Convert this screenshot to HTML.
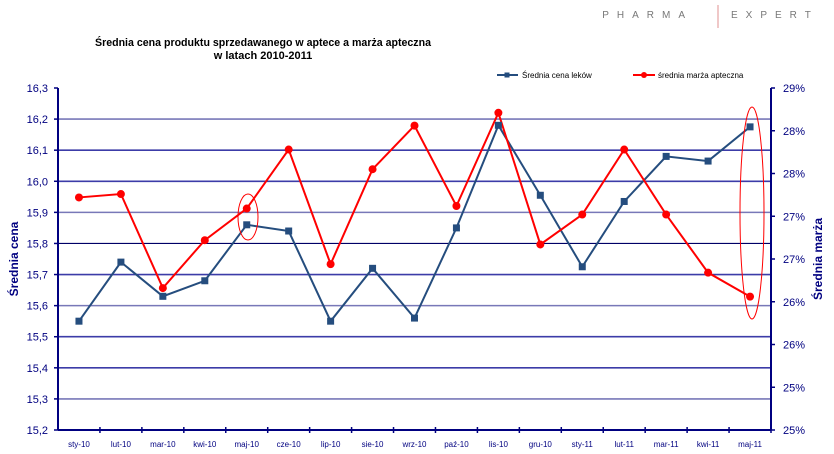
<!DOCTYPE html>
<html><head><meta charset="utf-8"><style>
body{margin:0;background:#fff;width:834px;height:454px;overflow:hidden;font-family:"Liberation Sans",sans-serif}
svg{display:block}
</style></head><body>
<svg id="chart" width="834" height="454" font-family="Liberation Sans, sans-serif">
<g>
<text x="693" y="18" font-size="10" fill="#777" text-anchor="end" letter-spacing="8">PHARMA</text>
<line x1="718" y1="5" x2="718" y2="28" stroke="#e09090" stroke-width="1"/>
<text x="731" y="18" font-size="10" fill="#777" letter-spacing="8">EXPERT</text>
</g>
<text x="263" y="46" font-size="11" font-weight="bold" fill="#000" text-anchor="middle" textLength="336" lengthAdjust="spacingAndGlyphs">Średnia cena produktu sprzedawanego w aptece a marża apteczna</text>
<text x="263" y="59" font-size="11" font-weight="bold" fill="#000" text-anchor="middle">w latach 2010-2011</text>
<g>
<g><line x1="497" y1="75" x2="518" y2="75" stroke="#254d7e" stroke-width="2"/><rect x="504.5" y="72.5" width="5" height="5" fill="#254d7e"/><text x="522" y="78" font-size="8" fill="#000">Średnia cena leków</text></g>
<g><line x1="633" y1="75" x2="655" y2="75" stroke="#f00" stroke-width="2"/><circle cx="644" cy="75" r="3" fill="#f00"/><text x="658" y="78" font-size="8" fill="#000">średnia marża apteczna</text></g>
</g>
<g id="grid"></g><g id="axes"></g><g id="series"></g>
<text transform="translate(18,259) rotate(-90)" font-size="12" font-weight="bold" fill="#000080" text-anchor="middle">Średnia cena</text>
<text transform="translate(822,259) rotate(-90)" font-size="12" font-weight="bold" fill="#000080" text-anchor="middle">Średnia marża</text>
<ellipse cx="248" cy="217" rx="10" ry="23" fill="none" stroke="#f00" stroke-width="1"/>
<ellipse cx="752" cy="213" rx="12" ry="106" fill="none" stroke="#f00" stroke-width="1"/>
</svg>
<script>
const categories=["sty-10","lut-10","mar-10","kwi-10","maj-10","cze-10","lip-10","sie-10","wrz-10","paź-10","lis-10","gru-10","sty-11","lut-11","mar-11","kwi-11","maj-11"];
const priceValues=[15.55,15.74,15.63,15.68,15.86,15.84,15.55,15.72,15.56,15.85,16.18,15.955,15.725,15.935,16.08,16.065,16.175];
const marginValues=[27.72,27.76,26.66,27.22,27.59,28.28,26.94,28.05,28.56,27.62,28.71,27.17,27.52,28.28,27.52,26.84,26.56];
const leftTicks=["15,2","15,3","15,4","15,5","15,6","15,7","15,8","15,9","16,0","16,1","16,2","16,3"];
const rightTicks=["25%","25%","25%","26%","26%","27%","27%","28%","28%","29%"];
const NS="http://www.w3.org/2000/svg";
const X0=58,X1=771,Y0=430,Y1=88;
const step=(X1-X0)/categories.length;
const xs=i=>X0+step*(i+0.5);
const yL=v=>Y0-(v-15.2)/(16.3-15.2)*(Y0-Y1);
const yR=v=>Y0-(v-25)/(29-25)*(Y0-Y1);
function mk(t,a,p){const e=document.createElementNS(NS,t);for(const k in a)e.setAttribute(k,a[k]);p.appendChild(e);return e;}
const grid=document.getElementById('grid'),axes=document.getElementById('axes'),ser=document.getElementById('series');
leftTicks.forEach((t,i)=>{const v=15.2+i*0.1;const y=yL(v);
 if(i>0&&i<leftTicks.length-1){const g=mk('line',{x1:X0,x2:X1,y1:y,y2:y,stroke:(i==6)?'#000066':(i%3==1?'#7878b8':'#3c3ca8'),'stroke-width':(i==6)?1.2:1.6},grid);
 
 }
 mk('line',{x1:X0-4,x2:X0,y1:y,y2:y,stroke:'#000080','stroke-width':1.5},axes);
 const tx=mk('text',{x:X0-10,y:y+4,'font-size':11,fill:'#000080','text-anchor':'end'},axes);tx.textContent=t;
 
 
});
for(let i=0;i<=8;i++){const y=yR(25+i*0.5);
 mk('line',{x1:X1,x2:X1+4,y1:y,y2:y,stroke:'#000080','stroke-width':1.5},axes);
 const tx=mk('text',{x:X1+12,y:y+4,'font-size':11,fill:'#000080'},axes);tx.textContent=rightTicks[i+1]||rightTicks[i];
 
 
}
mk('line',{x1:X0,x2:X0,y1:Y1,y2:Y0,stroke:'#000080','stroke-width':2},axes);
mk('line',{x1:X1,x2:X1,y1:Y1,y2:Y0,stroke:'#000080','stroke-width':2},axes);
mk('line',{x1:X0,x2:X1,y1:Y0,y2:Y0,stroke:'#000080','stroke-width':2},axes);
categories.forEach((c,i)=>{const x=X0+step*(i+1);
 mk('line',{x1:x,x2:x,y1:Y0-3,y2:Y0+3,stroke:'#000080','stroke-width':1.5},axes);
 const tx=mk('text',{x:xs(i),y:447,'font-size':8,fill:'#000080','text-anchor':'middle'},axes);tx.textContent=c;
 
 
});
const pl1=mk('polyline',{points:priceValues.map((v,i)=>xs(i)+','+yL(v)).join(' '),fill:'none',stroke:'#254d7e','stroke-width':2},ser);


const pl2=mk('polyline',{points:marginValues.map((v,i)=>xs(i)+','+yR(v)).join(' '),fill:'none',stroke:'#f00','stroke-width':2},ser);


priceValues.forEach((v,i)=>{const r=mk('rect',{x:xs(i)-3.5,y:yL(v)-3.5,width:7,height:7,fill:'#254d7e'},ser);
 
 });
marginValues.forEach((v,i)=>{const c=mk('circle',{cx:xs(i),cy:yR(v),r:4,fill:'#f00'},ser);
 
 });
</script>
</body></html>
